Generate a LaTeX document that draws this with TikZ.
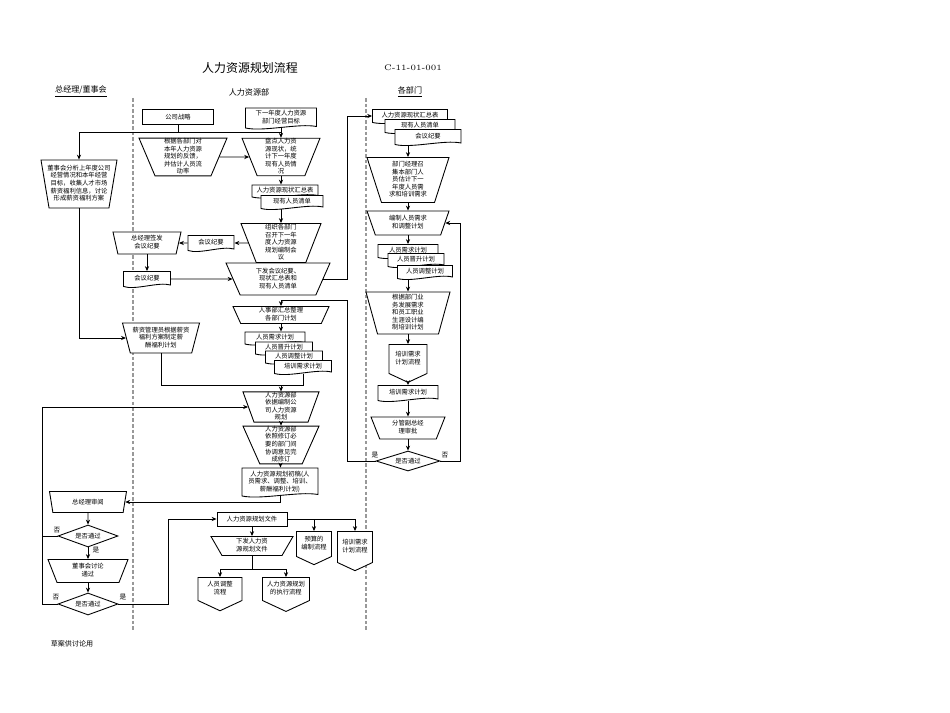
\documentclass[tikz,border=0pt]{standalone}
\usepackage{fontspec}
\newfontfamily\cjk{Noto Sans CJK SC}
\usetikzlibrary{arrows.meta,shapes.geometric,shapes.symbols}

\newcommand{\tx}[1]{\makebox[0pt]{\begin{tabular}{@{}c@{}}#1\end{tabular}}}
% document box: name, x, y, width, height, text
\newcommand{\docnode}[6]{%
  \filldraw[fill=white,shift={(#2,#3)}] (-#4/2,-#5/2) -- (#4/2,-#5/2) -- (#4/2,#5/2-1.5)
    .. controls (#4/4,#5/2-5) and (-#4/4,#5/2+4) .. (-#4/2,#5/2) -- cycle;
  \node[txt,minimum width=#4*0.02cm,minimum height=#5*0.02cm] (#1) at (#2,#3) {\tx{#6}};}

\begin{document}
\begin{tikzpicture}[x=0.02cm, y=-0.02cm, line width=0.5pt, >={Stealth[length=2.8pt,width=2.4pt]},
  txt/.style={font=\cjk\fontsize{3.6}{4.2}\selectfont, inner sep=0pt},
  sz/.style 2 args={minimum width=#1*0.02cm, minimum height=#2*0.02cm},
  box/.style={txt, draw, fill=white, rectangle},
  tz/.style={txt, draw, fill=white, trapezium, shape border rotate=180,
    trapezium left angle=#1, trapezium right angle=#1, trapezium stretches body=true},
  tz/.default=68,
  dia/.style={txt, draw, fill=white, diamond, aspect=3},
  offp/.style={txt, draw, fill=white, signal, signal to=south, signal pointer angle=130},
  lane/.style={draw=gray!80, line width=0.8pt, dash pattern=on 2pt off 1.2pt},
  yn/.style={font=\cjk\fontsize{3.8}{4}\selectfont, inner sep=0pt}]
\useasboundingbox (0,0) rectangle (950,713);

% header
\node (title) at (250,68) {\cjk\fontsize{6.8}{8}\selectfont 人力资源规划流程};
\node (code) at (413,68) {\fontsize{4.6}{5}\selectfont C-11-01-001};
\node[font=\cjk\fontsize{4.6}{5}\selectfont] (h1) at (81,92) {\underline{总经理/董事会}};
\node[font=\cjk\fontsize{4.6}{5}\selectfont] (h2) at (249,92) {人力资源部};
\node[font=\cjk\fontsize{4.6}{5}\selectfont] (h3) at (410,92) {\underline{各部门}};
\draw[lane] (133,98) -- (133,630);
\draw[lane] (366,98) -- (366,630);

% 人力资源部
\node[box,sz={71}{15}] (strat) at (178,117) {公司战略};
\docnode{goal}{281}{118}{71}{20}{下一年度人力资源\\部门经营目标}
\node[tz=67,sz={88}{37}] (A) at (183,157) {\tx{根据各部门对\\本年人力资源\\规划的反馈，\\并估计人员流\\动率}};
\node[tz=68,sz={78}{37}] (B) at (281,157) {\tx{盘点人力资\\源现状，统\\计下一年度\\现有人员情\\况}};
\docnode{s1a}{285}{191}{66}{12}{人力资源现状汇总表}
\docnode{s1b}{292}{202}{62}{13}{现有人员清单}
\node[tz=68,sz={80}{39}] (C) at (281,243) {\tx{组织各部门\\召开下一年\\度人力资源\\规划编制会\\议}};
\docnode{min1}{211}{243}{46}{15}{会议纪要}
\node[tz=72,sz={68}{22}] (sign) at (147,243) {\tx{总经理签发\\会议纪要}};
\docnode{min2}{147}{279}{47}{15}{会议纪要}
\node[tz=58,sz={104}{32}] (D) at (278,279) {\tx{下发会议纪要、\\现状汇总表和\\现有人员清单}};
\node[tz=63,sz={96}{17}] (I) at (281,315) {\tx{人事部汇总整理\\各部门计划}};
\docnode{s3a}{275}{338}{60}{12}{人员需求计划}
\docnode{s3b}{284}{348}{57}{12}{人员晋升计划}
\docnode{s3c}{294}{357}{57}{12}{人员调整计划}
\docnode{s3d}{303}{367}{57}{13}{培训需求计划}
\node[tz=70,sz={76}{30}] (J) at (281,407) {\tx{人力资源部\\依据编制公\\司人力资源\\规划}};
\node[tz=66,sz={76}{37}] (K) at (281,445) {\tx{人力资源部\\依照修订必\\要的部门间\\协调意见完\\成修订}};
\docnode{draft}{280}{482}{76}{28}{人力资源规划初稿(人\\员需求、调整、培训、\\薪酬福利计划)}
\node[box,sz={70}{14}] (file) at (252,519) {人力资源规划文件};
\node[tz=54,sz={82}{19}] (issue) at (252,546) {\tx{下发人力资\\源规划文件}};
\node[offp,sz={35}{25}] (off2) at (314,544) {\tx{预算的\\编制流程}};
\node[offp,sz={35}{31}] (off3) at (355,547) {\tx{培训需求\\计划流程}};
\node[offp,sz={44}{23}] (off4) at (220,589) {\tx{人员调整\\流程}};
\node[offp,sz={47}{23}] (off5) at (286,589) {\tx{人力资源规划\\的执行流程}};

% 总经理/董事会
\node[tz=78,sz={76}{48}] (board) at (79,184) {\tx{董事会分析上年度公司\\经营情况和本年经营\\目标，收集人才市场\\薪资福利信息，讨论\\形成薪资福利方案}};
\node[tz=71,sz={77}{30}] (sal) at (161,338) {\tx{薪资管理员根据薪资\\福利方案制定薪\\酬福利计划}};
\node[tz=60,sz={77}{21}] (review) at (88,502) {总经理审阅};
\node[dia,sz={60}{22}] (dia2) at (88,536) {是否通过};
\node[tz=59,sz={80}{23}] (boardok) at (88,571) {\tx{董事会讨论\\通过}};
\node[dia,sz={60}{22}] (dia3) at (88,604) {是否通过};

% 各部门
\docnode{d1}{410}{116}{75}{13}{人力资源现状汇总表}
\docnode{d2}{420}{126}{70}{13}{现有人员清单}
\docnode{d3}{428}{137}{66}{15}{会议纪要}
\node[tz=69,sz={82}{45}] (E) at (408,180) {\tx{部门经理召\\集本部门人\\员估计下一\\年度人员需\\求和培训需求}};
\node[tz=61,sz={82}{24}] (F) at (408,223) {\tx{编制人员需求\\和调整计划}};
\docnode{s2a}{408}{251}{60}{13}{人员需求计划}
\docnode{s2b}{416}{260}{56}{13}{人员晋升计划}
\docnode{s2c}{425}{272}{55}{13}{人员调整计划}
\node[tz=73,sz={84}{42}] (G) at (408,313) {\tx{根据部门业\\务发展需求\\和员工职业\\生涯设计编\\制培训计划}};
\node[offp,sz={38}{29}] (off1) at (408,359) {\tx{培训需求\\计划流程}};
\docnode{d4}{408}{393}{60}{15}{培训需求计划}
\node[tz=60,sz={74}{22}] (H) at (408,428) {\tx{分管副总经\\理审批}};
\node[dia,sz={64}{20}] (dia1) at (408,461) {是否通过};

\node[yn] (y1) at (375,455) {是};
\node[yn] (n1) at (445,455) {否};
\node[yn] (n2) at (57,530) {否};
\node[yn] (y2) at (96,550) {是};
\node[yn] (n3) at (56,597) {否};
\node[yn] (y3) at (123,597) {是};
\node[font=\cjk\fontsize{4}{5}\selectfont] (note) at (72,644) {草案供讨论用};

\coordinate (j1) at (178,132);
\coordinate (xr) at (347,0);
\coordinate (rt) at (460,0);
\coordinate (bk) at (42,0);
\coordinate (xf) at (168,0);
\coordinate (up) at (347,300);
\coordinate (m1) at (281,385);

% connectors
\draw (strat) -- (j1);
\draw[->] (j1) -| (board.north);
\draw (j1) -- (j1 -| B.north);
\draw[->] (goal) -- (B);
\draw[->] (A) -- (B);
\draw[->] (B.south) -- (B.south |- s1a.north);
\draw[->] (C.north |- s1b.south) -- (C.north);
\draw[->] (C) -- (min1);
\draw[->] (min1) -- (sign);
\draw[->] (sign) -- (min2);
\draw[->] (min2) -- (D);
\draw[->] (D.east) -| (xr |- d1.west) -- (d1.west);
\draw[->] (E.north |- d3.south) -- (E.north);
\draw[->] (E) -- (F);
\draw[->] (F) -- (s2a);
\draw[->] (G.north |- s2c.south) -- (G.north);
\draw[->] (G) -- (off1);
\draw[->] (off1) -- (d4);
\draw[->] (d4) -- (H);
\draw[->] (H) -- (dia1);
\draw[->] (dia1.east) -| (rt |- F.east) -- (F.east);
\draw[->] (dia1.west) -| (up) -| (I.north);
\draw[->] (I.south) -- (I.south |- s3a.north);
\draw[->] (board.south) |- (sal.west);
\draw (sal.south) |- (m1);
\draw (s3d.south) |- (m1);
\draw[->] (m1) -- (J.north);
\draw[->] (J) -- (K);
\draw[->] (K) -- (draft);
\draw[->] (draft.south) |- (review.east);
\draw[->] (review) -- (dia2);
\draw[->] (dia2) -- (boardok);
\draw[->] (boardok) -- (dia3);
\draw[->] (dia2.west) -| (bk |- J.west) -- (J.west);
\draw (dia3.west) -| (bk |- dia2.west);
\draw[->] (dia3.east) -| (xf |- file.west) -- (file.west);
\draw[->] (file) -- (issue);
\draw[->] (file.east) -| (off3.north);
\draw[->] (off2.north |- file.east) -- (off2.north);
\draw[->] (issue.south) -- ++(0,13) -| (off4.north);
\draw[->] (issue.south) ++(0,13) -| (off5.north);
\end{tikzpicture}
\end{document}
